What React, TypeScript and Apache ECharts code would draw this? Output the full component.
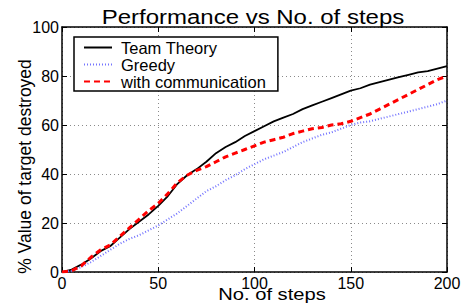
import React, { useEffect, useRef } from "react";
import * as echarts from "echarts";

const steps = [0, 5, 10, 15, 20, 25, 30, 35, 40, 45, 50, 55, 60, 65, 70, 75, 80, 85, 90, 95, 100,
  105, 110, 115, 120, 125, 130, 135, 140, 145, 150, 155, 160, 165, 170, 175, 180, 185, 190, 195, 200];

const teamTheory = [0, 1, 3, 5.5, 8.5, 10.5, 14, 17.5, 20.5, 23.5, 27, 31, 36, 39.5, 42, 45, 48.5, 51, 53, 55.5, 57.5,
  59.5, 61.5, 63, 64.5, 66.5, 68, 69.5, 71, 72.5, 74, 75, 76.5, 77.5, 78.5, 79.5, 80.5, 81.5, 82, 83, 84];

const greedy = [0, 0.5, 2, 4, 6.5, 9, 11.5, 13.5, 15, 17, 19, 21.5, 24, 27, 30, 33, 35, 37.5, 39.5, 42, 44,
  46, 47.5, 49, 51, 53, 54.5, 56, 57, 58.5, 60, 61, 61.5, 62.5, 63.5, 64.5, 65.5, 66.5, 67.5, 68.5, 70];

const withComm = [0, 0.5, 2.5, 6, 9, 11, 14.5, 18, 21.5, 25, 28, 32, 36.5, 39.5, 41.5, 43, 45, 47, 48.5, 50, 51.5,
  53, 54, 55, 56.5, 57.5, 58.5, 59, 60, 60.5, 61.5, 63, 64.5, 66.5, 68.5, 70.5, 72.5, 74.5, 76.5, 78.5, 80];

const seriesNames = ["Team Theory", "Greedy", "with communication"];
const titleText = "Performance vs No. of steps";
const xName = "No. of steps";
const yName = "% Value of target destroyed";

export default function App() {
  const ref = useRef<HTMLDivElement>(null);
  useEffect(() => {
    const chart = echarts.init(ref.current!, null, { renderer: "svg" });
    const font = "'Liberation Sans', Arial, Helvetica, sans-serif";
    const pair = (v: number[]) => steps.map((s, i) => [s, v[i]]);
    const frame = { show: true, onZero: false, lineStyle: { color: "#000", width: 1.5 } };
    const tick = { show: true, inside: true, length: 5, lineStyle: { color: "#000", width: 1 } };
    const grid = { show: true, lineStyle: { color: "#8a8a8a", width: 1, type: [1, 3] } };
    chart.setOption({
      animation: false,
      backgroundColor: "#fff",
      textStyle: { fontFamily: font },
      grid: { left: 62, right: 19, top: 27, bottom: 36 },
      xAxis: [
        {
          type: "value", min: 0, max: 200, interval: 50, position: "bottom",
          axisLine: frame, axisTick: tick,
          axisLabel: { color: "#000", fontSize: 16, margin: 3, fontFamily: font },
          splitLine: grid,
        },
        {
          type: "value", min: 0, max: 200, interval: 50, position: "top",
          axisLine: frame, axisTick: tick, axisLabel: { show: false }, splitLine: { show: false },
        },
      ],
      yAxis: [
        {
          type: "value", min: 0, max: 100, interval: 20, position: "left",
          axisLine: frame, axisTick: tick,
          axisLabel: { color: "#000", fontSize: 16, margin: 3, fontFamily: font },
          splitLine: grid,
        },
        {
          type: "value", min: 0, max: 100, interval: 20, position: "right",
          axisLine: frame, axisTick: tick, axisLabel: { show: false }, splitLine: { show: false },
        },
      ],
      legend: {
        data: seriesNames,
        orient: "vertical",
        left: 74,
        top: 37,
        padding: [2, 12, 1, 9],
        itemGap: 0,
        itemWidth: 28,
        itemHeight: 14,
        borderColor: "#000",
        borderWidth: 1.5,
        borderRadius: 0,
        backgroundColor: "#fff",
        itemStyle: { opacity: 0 },
        lineStyle: { opacity: 1 },
        textStyle: { fontSize: 16.5, color: "#000", lineHeight: 16, fontFamily: font, padding: [0, 0, 0, 4] },
      },
      series: [
        {
          name: seriesNames[0], type: "line", data: pair(teamTheory), symbol: "none",
          color: "#000", lineStyle: { color: "#000", width: 1.8, type: "solid" },
        },
        {
          name: seriesNames[1], type: "line", data: pair(greedy), symbol: "none",
          color: "#7474ff", lineStyle: { color: "#7474ff", width: 2, type: [1, 2] },
        },
        {
          name: seriesNames[2], type: "line", data: pair(withComm), symbol: "none",
          color: "#ff0000", lineStyle: { color: "#ff0000", width: 3, type: [6, 4] },
        },
      ],
      graphic: [
        {
          type: "text", x: 253, y: 17, scaleX: 1.23,
          style: { text: titleText, fontSize: 19.5, fontFamily: font, fill: "#000", align: "center", verticalAlign: "middle" },
        },
        {
          type: "text", x: 272, y: 295, scaleX: 1.26,
          style: { text: xName, fontSize: 16, fontFamily: font, fill: "#000", align: "center", verticalAlign: "middle" },
        },
        {
          type: "text", x: 25, y: 166.5, rotation: Math.PI / 2,
          style: { text: yName, fontSize: 17.5, fontFamily: font, fill: "#000", align: "center", verticalAlign: "middle" },
        },
      ],
    });
    return () => chart.dispose();
  }, []);
  return <div ref={ref} style={{ position: "fixed", left: 0, top: 0, width: 466, height: 308 }} />;
}
